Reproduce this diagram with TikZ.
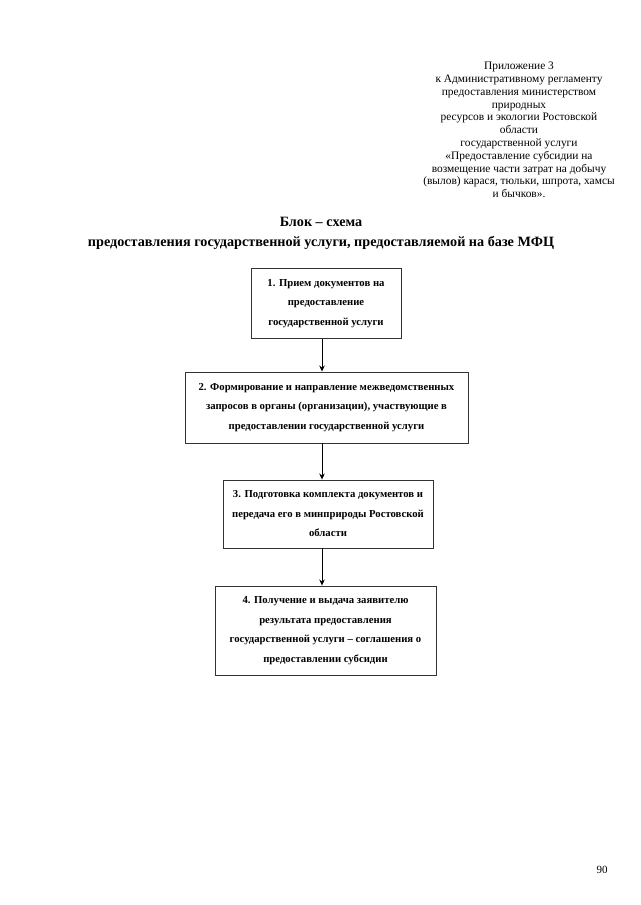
\documentclass[tikz,border=0pt]{standalone}
\usepackage{fontspec}
\setmainfont{Liberation Serif}
\usetikzlibrary{arrows.meta}
\begin{document}
\begin{tikzpicture}[x=1pt,y=-1pt,
  hdr/.style={align=center,font=\fontsize{11.4}{12.8}\selectfont,inner sep=0},
  ttl/.style={align=center,font=\fontsize{14.2}{20}\selectfont\bfseries,inner sep=0},
  stepbox/.style={draw=black!80,line width=0.9pt,inner sep=0,align=center,
    font=\fontsize{10.7}{19.5}\selectfont\bfseries},
  arr/.style={line width=0.9pt,-{Stealth[length=6pt,width=5.5pt]}}]
\useasboundingbox (0,0) rectangle (640,905);
\node[hdr,anchor=north] (hdr) at (519,62) {Приложение 3\\к Административному регламенту\\предоставления министерством\\природных\\ресурсов и экологии Ростовской\\области\\государственной услуги\\«Предоставление субсидии на\\возмещение части затрат на добычу\\(вылов) карася, тюльки, шпрота, хамсы\\и бычков».};
\node[ttl] (ttl) at (321,233) {Блок – схема\\предоставления государственной услуги, предоставляемой на базе МФЦ};
\node[stepbox,minimum width=150pt,minimum height=70pt] (b1) at (326,303.5) {1. Прием документов на\\предоставление\\государственной услуги};
\node[stepbox,minimum width=283pt,minimum height=71pt] (b2) at (326.5,407.5) {2. Формирование и направление межведомственных\\запросов в органы (организации), участвующие в\\предоставлении государственной услуги};
\node[stepbox,minimum width=210pt,minimum height=68pt] (b3) at (328,514) {3. Подготовка комплекта документов и\\передача его в минприроды Ростовской\\области};
\node[stepbox,minimum width=221pt,minimum height=89pt] (b4) at (325.5,630.5) {4. Получение и выдача заявителю\\результата предоставления\\государственной услуги – соглашения о\\предоставлении субсидии};
\coordinate (ax) at (322,0);
\draw[arr] (b1.south -| ax) -- (b2.north -| ax);
\draw[arr] (b2.south -| ax) -- (b3.north -| ax);
\draw[arr] (b3.south -| ax) -- (b4.north -| ax);
\node[inner sep=0,font=\fontsize{11}{13}\selectfont] (pg) at (602,870) {90};
\end{tikzpicture}
\end{document}
